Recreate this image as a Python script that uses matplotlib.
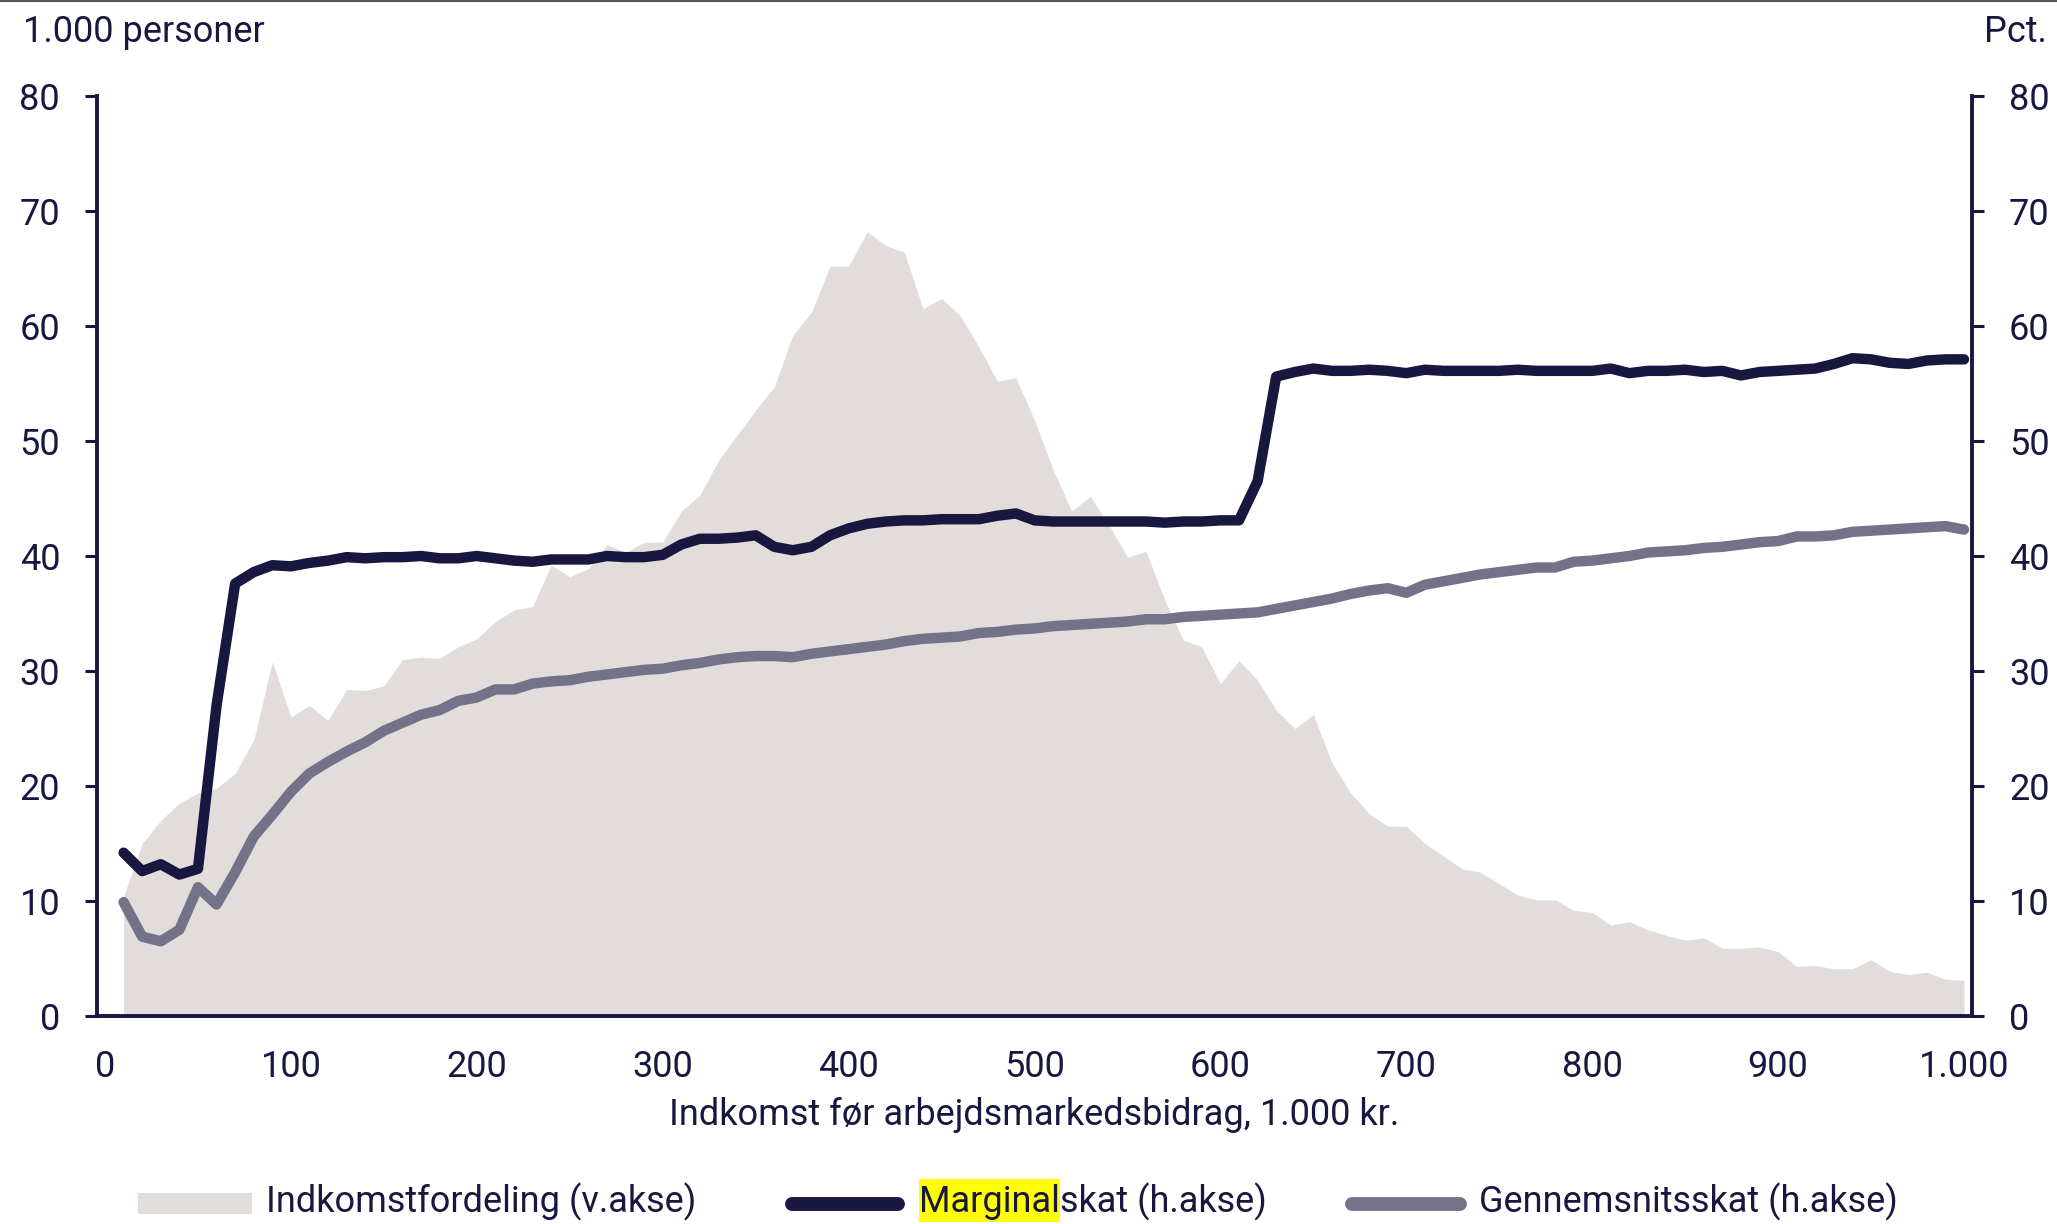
import numpy as np
import matplotlib
matplotlib.use('Agg')
import matplotlib.pyplot as plt
from matplotlib.lines import Line2D
from matplotlib.patches import Rectangle

plt.rcParams['font.family'] = ['Roboto', 'DejaVu Sans']

# Income grid, 1.000 kr.
income = np.arange(10, 1001, 10)

# Indkomstfordeling, 1.000 personer (left axis)
distribution = [
    10.4, 15.0, 17.0, 18.5, 19.4, 19.8, 21.1, 24.0, 30.8, 26.0,
    27.0, 25.7, 28.4, 28.3, 28.7, 31.0, 31.2, 31.1, 32.1, 32.8,
    34.3, 35.3, 35.6, 39.2, 38.2, 38.9, 41.0, 40.3, 41.2, 41.2,
    43.9, 45.3, 48.3, 50.5, 52.7, 54.7, 59.2, 61.2, 65.2, 65.2,
    68.2, 67.0, 66.4, 61.5, 62.4, 60.9, 58.2, 55.2, 55.5, 51.8,
    47.5, 43.9, 45.2, 42.7, 39.9, 40.4, 36.2, 32.7, 32.1, 28.9,
    30.9, 29.2, 26.6, 25.0, 26.2, 22.0, 19.4, 17.6, 16.5, 16.5,
    15.0, 13.9, 12.8, 12.5, 11.5, 10.5, 10.1, 10.1, 9.2, 9.0,
    7.9, 8.2, 7.5, 7.0, 6.6, 6.8, 5.9, 5.9, 6.0, 5.6,
    4.3, 4.4, 4.1, 4.1, 4.9, 3.9, 3.6, 3.8, 3.2, 3.1,
]

# Marginalskat, pct. (right axis)
marginal_tax = [
    14.2, 12.6, 13.2, 12.3, 12.8, 27.0, 37.6, 38.6, 39.2, 39.1,
    39.4, 39.6, 39.9, 39.8, 39.9, 39.9, 40.0, 39.8, 39.8, 40.0,
    39.8, 39.6, 39.5, 39.7, 39.7, 39.7, 40.0, 39.9, 39.9, 40.1,
    41.0, 41.5, 41.5, 41.6, 41.8, 40.8, 40.5, 40.8, 41.8, 42.4,
    42.8, 43.0, 43.1, 43.1, 43.2, 43.2, 43.2, 43.5, 43.7, 43.1,
    43.0, 43.0, 43.0, 43.0, 43.0, 43.0, 42.9, 43.0, 43.0, 43.1,
    43.1, 46.5, 55.6, 56.0, 56.3, 56.1, 56.1, 56.2, 56.1, 55.9,
    56.2, 56.1, 56.1, 56.1, 56.1, 56.2, 56.1, 56.1, 56.1, 56.1,
    56.3, 55.9, 56.1, 56.1, 56.2, 56.0, 56.1, 55.7, 56.0, 56.1,
    56.2, 56.3, 56.7, 57.2, 57.1, 56.8, 56.7, 57.0, 57.1, 57.1,
]

# Gennemsnitsskat, pct. (right axis)
average_tax = [
    9.9, 6.9, 6.5, 7.5, 11.2, 9.7, 12.5, 15.6, 17.5, 19.5,
    21.1, 22.1, 23.0, 23.8, 24.8, 25.5, 26.2, 26.6, 27.4, 27.7,
    28.4, 28.4, 28.9, 29.1, 29.2, 29.5, 29.7, 29.9, 30.1, 30.2,
    30.5, 30.7, 31.0, 31.2, 31.3, 31.3, 31.2, 31.5, 31.7, 31.9,
    32.1, 32.3, 32.6, 32.8, 32.9, 33.0, 33.3, 33.4, 33.6, 33.7,
    33.9, 34.0, 34.1, 34.2, 34.3, 34.5, 34.5, 34.7, 34.8, 34.9,
    35.0, 35.1, 35.4, 35.7, 36.0, 36.3, 36.7, 37.0, 37.2, 36.8,
    37.5, 37.8, 38.1, 38.4, 38.6, 38.8, 39.0, 39.0, 39.5, 39.6,
    39.8, 40.0, 40.3, 40.4, 40.5, 40.7, 40.8, 41.0, 41.2, 41.3,
    41.7, 41.7, 41.8, 42.1, 42.2, 42.3, 42.4, 42.5, 42.6, 42.3,
]

x_ticks = [0, 100, 200, 300, 400, 500, 600, 700, 800, 900, 1000]
x_ticklabels = ['0', '100', '200', '300', '400', '500', '600', '700', '800', '900', '1.000']
y_ticks = [0, 10, 20, 30, 40, 50, 60, 70, 80]

NAVY = '#17173f'
GREY = '#737289'
FILL = '#e2dcda'
FS = 26

fig = plt.figure(figsize=(20.57, 12.24), dpi=100)
ax = fig.add_axes([0.04716, 0.16993, 0.91152, 0.75164])
ax2 = ax.twinx()

ax.fill_between(income, distribution, 0, color=FILL, linewidth=0)

ax2.plot(income, marginal_tax, color=NAVY, lw=7.5,
         solid_capstyle='round', solid_joinstyle='round', clip_on=False)
ax2.plot(income, average_tax, color=GREY, lw=7.5,
         solid_capstyle='round', solid_joinstyle='round', clip_on=False)

for a in (ax, ax2):
    a.set_xlim(-4.3, 1004.3)
    a.set_ylim(0, 80)
    a.set_yticks(y_ticks)
    for s in a.spines.values():
        s.set_visible(False)
        s.set_color(NAVY)
        s.set_linewidth(2.8)

ax.spines['left'].set_visible(True)
ax.spines['bottom'].set_visible(True)
ax2.spines['right'].set_visible(True)

ax.set_xticks(x_ticks)
ax.set_xticklabels(x_ticklabels)
ax.tick_params(axis='x', length=0, pad=24, labelsize=FS, labelcolor=NAVY)
ax.tick_params(axis='y', length=8.6, width=2.2, color=NAVY, pad=18,
               labelsize=FS, labelcolor=NAVY)
ax2.tick_params(axis='y', length=8.6, width=2.2, color=NAVY, pad=18,
                labelsize=FS, labelcolor=NAVY)

# axis titles
fig.text(0.0112, 0.9657, '1.000 personer', fontsize=FS, color=NAVY, va='baseline', ha='left')
fig.text(0.9951, 0.9657, 'Pct.', fontsize=FS, color=NAVY, va='baseline', ha='right')
fig.text(0.5029, 0.0809, 'Indkomst før arbejdsmarkedsbidrag, 1.000 kr.',
         fontsize=FS, color=NAVY, va='baseline', ha='center')

# thin frame line at the top
fig.add_artist(Line2D([0, 1], [0.999, 0.999], transform=fig.transFigure,
                      color='#555555', lw=1.5))

# legend, built by hand
leg_y = 0.0163
text_y = 0.0095
fig.add_artist(Rectangle((0.0671, 0.0082), 0.0554, 0.0172, transform=fig.transFigure,
                         facecolor=FILL, edgecolor='none'))
fig.text(0.1293, text_y, 'Indkomstfordeling (v.akse)', fontsize=FS, color=NAVY, va='baseline')

fig.add_artist(Line2D([0.3850, 0.4366], [leg_y, leg_y], transform=fig.transFigure,
                      color=NAVY, lw=10, solid_capstyle='round'))
fig.add_artist(Line2D([0.6573, 0.7098], [leg_y, leg_y], transform=fig.transFigure,
                      color=GREY, lw=10, solid_capstyle='round'))
fig.text(0.7190, text_y, 'Gennemsnitsskat (h.akse)', fontsize=FS, color=NAVY, va='baseline')

t_marg = fig.text(0.4468, text_y, 'Marginal', fontsize=FS, color=NAVY, va='baseline', zorder=5)
fig.canvas.draw()
r = fig.canvas.get_renderer()
bb = t_marg.get_window_extent(r)
W, H = fig.bbox.width, fig.bbox.height
fig.add_artist(Rectangle((bb.x0 / W, 0.0016), (bb.x1 - bb.x0) / W, 0.0351,
                         transform=fig.transFigure, facecolor='#ffff00',
                         edgecolor='none', zorder=1))
fig.text(bb.x1 / W, text_y, 'skat (h.akse)', fontsize=FS, color=NAVY, va='baseline', zorder=5)

fig.savefig('out.png', dpi=100)
